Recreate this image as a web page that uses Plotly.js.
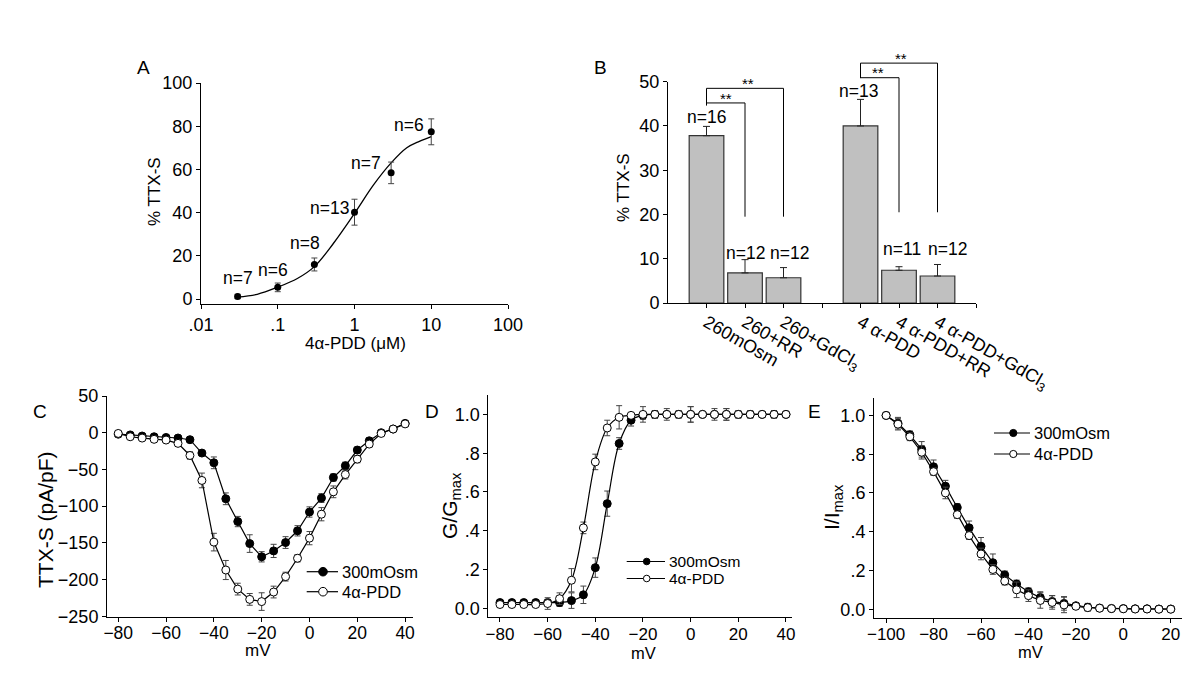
<!DOCTYPE html>
<html><head><meta charset="utf-8">
<script src="https://cdn.plot.ly/plotly-3.0.1.min.js"></script>
<style>html,body{margin:0;padding:0;background:#fff}#chart{width:1200px;height:697px}</style>
</head><body><div id="chart"></div>
<script>
// ---------- Panel A : dose response ----------
const concA = [0.03, 0.1, 0.3, 1, 3, 10];
const pctA  = [1.2, 5.4, 16, 40.2, 58.4, 77.4];
const errA  = [1, 2, 3, 6, 5, 6];
const nA    = ['n=7','n=6','n=8','n=13','n=7','n=6'];
const fitAx = [0.03, 0.054, 0.1, 0.18, 0.3, 0.53, 1, 1.76, 3, 4.8, 7, 10];
const fitAy = [0.9, 2.2, 5.5, 9.5, 15, 25.7, 39.6, 52.7, 63, 70, 73, 75.2];
const nApos = [[0.0303, 9.7], [0.0867, 13.4], [0.226, 25.9], [0.466, 42.1], [1.41, 63], [5.13, 80.6]];

// ---------- Panel B : bars ----------
const catB  = ['260mOsm','260+RR','260+GdCl<sub>3</sub>','4 α-PDD','4 α-PDD+RR','4 α-PDD+GdCl<sub>3</sub>'];
const slotB = [1, 2, 3, 5, 6, 7];
const pctB  = [37.8, 6.8, 5.7, 40.0, 7.4, 6.1];
const errB  = [2.1, 3.0, 2.3, 6.0, 0.8, 2.6];
const nB    = ['n=16','n=12','n=12','n=13','n=11','n=12'];

// ---------- Panel C : I-V ----------
const mvC    = [-80,-75,-70,-65,-60,-55,-50,-45,-40,-35,-30,-25,-20,-15,-10,-5,0,5,10,15,20,25,30,35,40];
const ivOsm  = [-2,-3,-4.5,-5.5,-6.5,-7.2,-9.5,-27.7,-41,-90,-121,-151,-169,-161,-149.6,-133.6,-108,-89,-61,-45,-23.6,-11,0,5,12.7];
const ivOsmE = [1,1,1,1,1,1.5,2,3,8,8,7,12,7,9,8,7,7,6,5,5,4,4,3,3,3];
const ivPdd  = [-1,-5.5,-7.3,-9,-10,-14.5,-31,-65,-149,-187,-213,-227,-230,-217,-196,-171,-143.6,-111,-80.5,-57,-36,-15.5,-1,5,12];
const ivPddE = [1,1,1,1,1.5,2,5,10,12,13,8,8,12,8,6,5,9,9,8,6,5,4,3,3,2];

// ---------- Panel D : activation ----------
const mvD   = [-80,-75,-70,-65,-60,-55,-50,-45,-40,-35,-30,-25,-20,-15,-10,-5,0,5,10,15,20,25,30,35,40];
const gOsm  = [0.03,0.03,0.03,0.03,0.03,0.03,0.04,0.07,0.21,0.54,0.85,0.97,0.995,1,1,1,1,1,1,1,1,1,1,1,1];
const gOsmE = [0.01,0.01,0.01,0.01,0.01,0.02,0.04,0.045,0.05,0.065,0.03,0.03,0.02,0.02,0.01,0.01,0.04,0.01,0.01,0.03,0.01,0.01,0,0.01,0];
const gPdd  = [0.02,0.02,0.02,0.02,0.025,0.05,0.145,0.415,0.755,0.93,0.985,0.995,1,1,1,1,1,1,1,1,1,1,1,1,1];
const gPddE = [0.01,0.01,0.01,0.01,0.03,0.03,0.06,0.03,0.04,0.04,0.06,0.01,0.04,0.02,0.03,0.02,0.04,0.015,0.03,0.03,0.02,0.02,0,0.02,0];

// ---------- Panel E : inactivation ----------
const mvE   = [-100,-95,-90,-85,-80,-75,-70,-65,-60,-55,-50,-45,-40,-35,-30,-25,-20,-15,-10,-5,0,5,10,15,20];
const iOsm  = [1.0,0.96,0.9,0.825,0.735,0.635,0.525,0.42,0.325,0.24,0.177,0.13,0.09,0.06,0.04,0.03,0.018,0.01,0.006,0.004,0.003,0.002,0.002,0.001,0.001];
const iOsmE = [0,0.03,0.02,0.04,0.035,0.03,0.02,0.035,0.045,0.045,0.02,0.02,0.02,0.03,0.03,0.035,0.01,0.02,0.005,0.005,0.005,0.005,0.005,0.005,0.005];
const iPdd  = [1.0,0.955,0.89,0.81,0.71,0.6,0.488,0.38,0.285,0.205,0.145,0.1,0.07,0.045,0.035,0.022,0.015,0.008,0.005,0.003,0.002,0.001,0.001,0,0];
const iPddE = [0,0.03,0.02,0.035,0.02,0.03,0.02,0.02,0.03,0.025,0.02,0.04,0.03,0.04,0.035,0.04,0.01,0.015,0.005,0.005,0.005,0.005,0.005,0.005,0.005];

const seriesNames = ['300mOsm', '4α-PDD'];

// ---------- layout helpers ----------
const W = 1200, H = 697;
const FONT = 'Liberation Sans, Arial, sans-serif';
const px = x => x / W, py = y => 1 - y / H;
const F = (s) => ({family: FONT, size: s, color: '#000'});
const TICK = F(18);

function ax(extra) {
  return Object.assign({
    showline: true, linecolor: '#000', linewidth: 1, mirror: false,
    ticks: 'outside', ticklen: 4, tickwidth: 1, tickcolor: '#000',
    showgrid: false, zeroline: false, tickfont: TICK, fixedrange: true
  }, extra);
}

const mk = (filled) => ({symbol: 'circle', size: 8, color: filled ? '#000' : '#fff', line: {color: '#000', width: 1}});
const eb = (arr) => ({type: 'data', array: arr, color: '#444', thickness: 1, width: 3});

const traces = [];
// A
traces.push({x: fitAx, y: fitAy, mode: 'lines', line: {color: '#000', width: 1.3, shape: 'spline'}, xaxis: 'x', yaxis: 'y', showlegend: false, hoverinfo: 'skip'});
traces.push({x: concA, y: pctA, mode: 'markers', marker: {symbol: 'circle', size: 7, color: '#000'}, error_y: eb(errA), xaxis: 'x', yaxis: 'y', showlegend: false});
// B
traces.push({type: 'bar', x: slotB, y: pctB, width: 0.9, marker: {color: '#c0c0c0', line: {color: '#333', width: 1.2}},
  error_y: {type: 'data', symmetric: false, array: errB, arrayminus: errB.map(() => 0), color: '#222', thickness: 1, width: 3.5},
  xaxis: 'x2', yaxis: 'y2', showlegend: false});
// C
traces.push({x: mvC, y: ivOsm, mode: 'lines+markers', line: {color: '#000', width: 1.2}, marker: mk(true), error_y: eb(ivOsmE), xaxis: 'x3', yaxis: 'y3', showlegend: false});
traces.push({x: mvC, y: ivPdd, mode: 'lines+markers', line: {color: '#000', width: 1.2}, marker: mk(false), error_y: eb(ivPddE), xaxis: 'x3', yaxis: 'y3', showlegend: false});
// D
traces.push({x: mvD, y: gOsm, mode: 'lines+markers', line: {color: '#000', width: 1.2, shape: 'spline', smoothing: 1}, marker: mk(true), error_y: eb(gOsmE), xaxis: 'x4', yaxis: 'y4', showlegend: false});
traces.push({x: mvD, y: gPdd, mode: 'lines+markers', line: {color: '#000', width: 1.2, shape: 'spline', smoothing: 1}, marker: mk(false), error_y: eb(gPddE), xaxis: 'x4', yaxis: 'y4', showlegend: false});
// E
traces.push({x: mvE, y: iOsm, mode: 'lines+markers', line: {color: '#000', width: 1.2}, marker: mk(true), error_y: eb(iOsmE), xaxis: 'x5', yaxis: 'y5', showlegend: false});
traces.push({x: mvE, y: iPdd, mode: 'lines+markers', line: {color: '#000', width: 1.2}, marker: mk(false), error_y: eb(iPddE), xaxis: 'x5', yaxis: 'y5', showlegend: false});

// axis ranges / domains (pixel frames of each panel)
const A = {xd: [201, 508], yd: [83, 304], xr: [-2, 2], yr: [-2.3, 100]};
const B = {xd: [668, 976], yd: [81.7, 303], xr: [0, 8], yr: [0, 50]};
const C = {xd: [107, 413], yd: [396, 617], xr: [-84.7, 43.3], yr: [-251, 50]};
const D = {xd: [488.3, 791.7], yd: [395, 617.3], xr: [-84.9, 42.4], yr: [-0.046, 1.1]};
const E = {xd: [874, 1181.7], yd: [398, 618.3], xr: [-105.1, 24.6], yr: [-0.047, 1.09]};
const xdom = P => [px(P.xd[0]), px(P.xd[1])];
const ydom = P => [py(P.yd[1]), py(P.yd[0])];
const bx = v => px(B.xd[0] + (v - B.xr[0]) / (B.xr[1] - B.xr[0]) * (B.xd[1] - B.xd[0]));
const by = v => py(B.yd[1] - (v - B.yr[0]) / (B.yr[1] - B.yr[0]) * (B.yd[1] - B.yd[0]));

const fracTicks = {tickvals: [0, 0.2, 0.4, 0.6, 0.8, 1.0], ticktext: ['0.0', '.2', '.4', '.6', '.8', '1.0']};

const layout = {
  width: W, height: H, margin: {l: 0, r: 0, t: 0, b: 0},
  paper_bgcolor: '#fff', plot_bgcolor: 'rgba(0,0,0,0)',
  font: TICK, bargap: 0, showlegend: false,
  xaxis: ax({domain: xdom(A), anchor: 'y', type: 'log', range: A.xr, tickvals: [0.01, 0.1, 1, 10, 100], ticktext: ['.01', '.1', '1', '10', '100']}),
  yaxis: ax({domain: ydom(A), anchor: 'x', range: A.yr, tickvals: [0, 20, 40, 60, 80, 100]}),
  xaxis2: ax({domain: xdom(B), anchor: 'y2', range: B.xr, tickvals: [1, 2, 3, 4, 5, 6, 7, 8], ticktext: [catB[0], catB[1], catB[2], ' ', catB[3], catB[4], catB[5], ' '], tickangle: 30, ticklabelstandoff: -3}),
  yaxis2: ax({domain: ydom(B), anchor: 'x2', range: B.yr, tickvals: [0, 10, 20, 30, 40, 50]}),
  xaxis3: ax({domain: xdom(C), anchor: 'y3', range: C.xr, tickvals: [-80, -60, -40, -20, 0, 20, 40], ticklabelstandoff: -4, tickfont: F(17.5)}),
  yaxis3: ax({domain: ydom(C), anchor: 'x3', range: C.yr, tickvals: [-250, -200, -150, -100, -50, 0, 50]}),
  xaxis4: ax({domain: xdom(D), anchor: 'y4', range: D.xr, tickvals: [-80, -60, -40, -20, 0, 20, 40], ticklabelstandoff: -3, tickfont: F(17)}),
  yaxis4: ax(Object.assign({domain: ydom(D), anchor: 'x4', range: D.yr}, fracTicks)),
  xaxis5: ax({domain: xdom(E), anchor: 'y5', range: E.xr, tickvals: [-100, -80, -60, -40, -20, 0, 20], ticklabelstandoff: -4, tickfont: F(17)}),
  yaxis5: ax(Object.assign({domain: ydom(E), anchor: 'x5', range: E.yr}, fracTicks)),
  annotations: [], shapes: []
};

const ann = (text, x, y, extra) => Object.assign({text, x, y, xref: 'paper', yref: 'paper', showarrow: false, font: F(17), xanchor: 'center', yanchor: 'middle'}, extra || {});
// panel letters
[['A', 143, 67], ['B', 600, 67], ['C', 40, 411], ['D', 432, 411], ['E', 814, 411]].forEach(([t, x, y]) =>
  layout.annotations.push(ann(t, px(x), py(y), {font: F(19)})));
// axis titles
layout.annotations.push(ann('% TTX-S', px(155), py(192), {textangle: -90}));
layout.annotations.push(ann('4α-PDD (μM)', px(355), py(343)));
layout.annotations.push(ann('% TTX-S', px(623), py(188), {textangle: -90}));
layout.annotations.push(ann('TTX-S (pA/pF)', px(45), py(520), {textangle: -90, font: F(21)}));
layout.annotations.push(ann('mV', px(258), py(650)));
layout.annotations.push(ann('G/G<sub>max</sub>', px(451), py(506), {textangle: -90, font: F(21)}));
layout.annotations.push(ann('mV', px(643), py(653), {font: F(16.5)}));
layout.annotations.push(ann('I/I<sub>max</sub>', px(833), py(507), {textangle: -90, font: F(21)}));
layout.annotations.push(ann('mV', px(1030), py(652), {font: F(16.5)}));
// n labels in A (data coords, log x)
nA.forEach((t, i) => layout.annotations.push({text: t, x: Math.log10(nApos[i][0]), y: nApos[i][1], xref: 'x', yref: 'y', showarrow: false, font: F(17.5)}));
// n labels in B
const nByv = [42.05, 11.35, 11.35, 47.9, 12.2, 12.2];
const nBxoff = [0.01, 0, 0.16, -0.06, 0.07, 0.25];
nB.forEach((t, i) => layout.annotations.push({text: t, x: slotB[i] + nBxoff[i], y: nByv[i], xref: 'x2', yref: 'y2', showarrow: false, font: F(17.5)}));
// significance brackets in B
const lineSty = {color: '#000', width: 1};
function seg(x0, y0, x1, y1) { layout.shapes.push({type: 'line', xref: 'paper', yref: 'paper', x0: bx(x0), y0: by(y0), x1: bx(x1), y1: by(y1), line: lineSty}); }
seg(1, 44.6, 1, 48.5); seg(1, 45.2, 2, 45.2); seg(2, 45.2, 2, 19.5); seg(1, 48.5, 3, 48.5); seg(3, 48.5, 3, 19.5);
seg(5, 50.8, 5, 54.2); seg(5, 50.9, 6, 50.9); seg(6, 50.9, 6, 20.5); seg(5, 54.2, 7, 54.2); seg(7, 54.2, 7, 20.5);
[[1.5, 46.3], [2.08, 49.6], [5.45, 52.0], [6.04, 55.3]].forEach(([x, y]) =>
  layout.annotations.push(ann('**', bx(x), by(y), {font: F(15)})));

// legends drawn as key samples (line + circle) and text, one per panel
function legendKey(xl, xr, xm, y, filled, r, label, fs) {
  layout.shapes.push({type: 'line', xref: 'paper', yref: 'paper', x0: px(xl), x1: px(xr), y0: py(y), y1: py(y), line: {color: '#000', width: 1.2}});
  layout.shapes.push({type: 'circle', xref: 'paper', yref: 'paper', xsizemode: 'pixel', ysizemode: 'pixel',
    xanchor: px(xm), yanchor: py(y), x0: -r, x1: r, y0: -r, y1: r,
    fillcolor: filled ? '#000' : '#fff', line: {color: '#000', width: 1}});
  layout.annotations.push(ann(label, px(xr + 2), py(y), {xanchor: 'left', font: F(fs)}));
}
legendKey(306.7, 338, 323, 571.7, true, 4.3, seriesNames[0], 16.5);
legendKey(306.7, 338, 323, 591.7, false, 4.3, seriesNames[1], 16.5);
legendKey(626.7, 665, 646.7, 561.5, true, 3.3, seriesNames[0], 15.5);
legendKey(626.7, 665, 646.7, 578.5, false, 3.3, seriesNames[1], 15.5);
legendKey(994, 1030, 1013.3, 433, true, 3.6, seriesNames[0], 16.5);
legendKey(994, 1030, 1013.3, 454, false, 3.6, seriesNames[1], 16.5);

Plotly.newPlot('chart', traces, layout, {displayModeBar: false, staticPlot: true});
</script>
</body></html>
